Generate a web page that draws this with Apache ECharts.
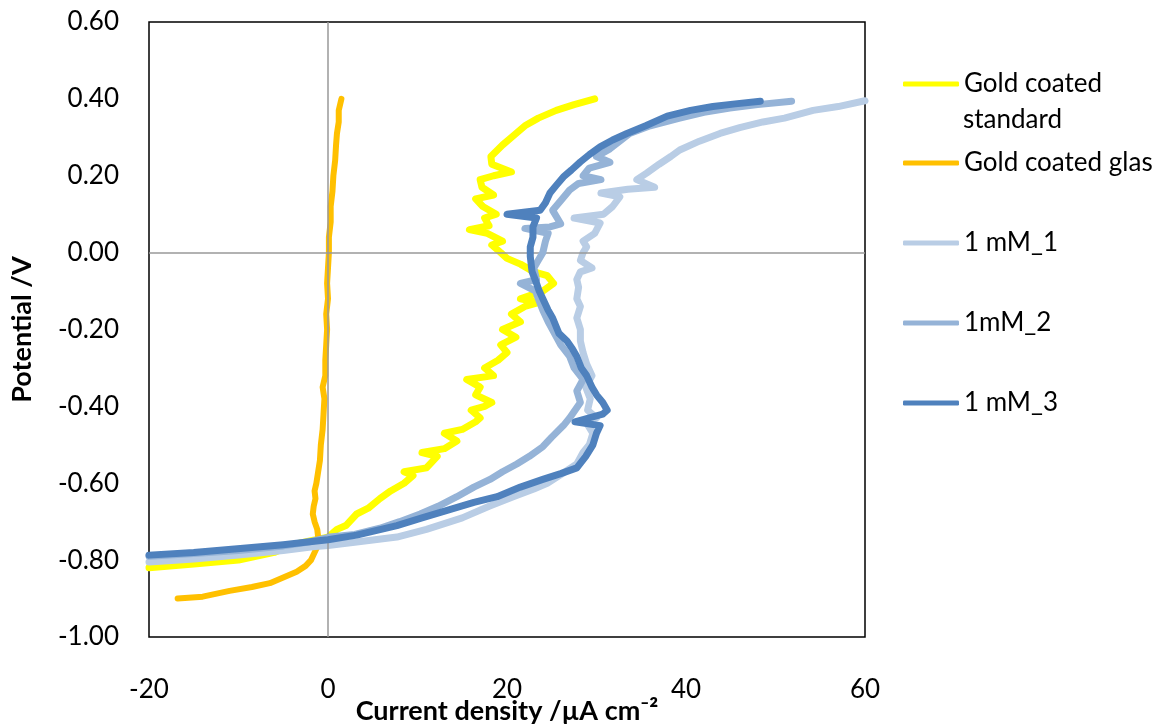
<!DOCTYPE html>
<html>
<head>
<meta charset="utf-8">
<script src="https://cdn.jsdelivr.net/npm/echarts@6/dist/echarts.min.js"></script>
<style>html,body{margin:0;padding:0;background:#fff;}#chart{width:1162px;height:724px;}</style>
</head>
<body>
<div id="chart"></div>
<script>
// ---- data: [current density (µA cm-2), potential (V)] ----
const seriesNames = ['Gold coated standard', 'Gold coated glas', '1 mM_1', '1mM_2', '1 mM_3'];
const xTicks = [-20, 0, 20, 40, 60];
const yTicks = [-1.0, -0.8, -0.6, -0.4, -0.2, 0.0, 0.2, 0.4, 0.6];

const goldStandard = [
  [-20,-0.82],[-15,-0.81],[-10,-0.80],[-6,-0.78],[-4,-0.76],[-2,-0.75],[0,-0.74],[1,-0.72],[2,-0.71],
  [3.2,-0.68],[4.5,-0.665],[5.8,-0.64],[7,-0.62],[8.5,-0.6],[9.5,-0.58],[8.5,-0.57],[11,-0.56],
  [12.2,-0.53],[10.5,-0.52],[13,-0.51],[14.4,-0.49],[13,-0.47],[15,-0.46],[16.5,-0.44],[17,-0.43],
  [16,-0.41],[17.5,-0.40],[18.3,-0.39],[16.5,-0.37],[17,-0.35],[15.5,-0.33],[18.5,-0.32],[17.5,-0.30],
  [19,-0.28],[20,-0.26],[19.3,-0.24],[21,-0.22],[19.5,-0.20],[21.5,-0.18],[20.5,-0.16],[22,-0.14],
  [23.5,-0.13],[21.5,-0.12],[24,-0.10],[25.2,-0.08],[24.5,-0.06],[23,-0.05],[21.5,-0.03],[20,-0.015],
  [19.3,0],[18.3,0.02],[19.5,0.03],[17.8,0.05],[15.8,0.06],[18,0.07],[17.5,0.09],[18.8,0.1],
  [17.3,0.12],[16.5,0.14],[18.5,0.15],[17.2,0.17],[17,0.19],[18.5,0.2],[20.5,0.21],[18.3,0.23],
  [18.2,0.25],[19.5,0.28],[20.5,0.3],[22,0.33],[23.5,0.35],[25.5,0.37],[27.5,0.385],[29.8,0.40]
];
const goldGlas = [
  [-16.8,-0.90],[-14,-0.895],[-11,-0.88],[-8.5,-0.87],[-6.5,-0.86],[-5,-0.845],[-3.5,-0.83],[-2.5,-0.815],
  [-1.9,-0.80],[-1.5,-0.78],[-1.2,-0.765],[-1.1,-0.74],[-1.2,-0.72],[-1.5,-0.70],[-1.7,-0.68],[-1.6,-0.66],
  [-1.4,-0.64],[-1.5,-0.62],[-1.3,-0.60],[-1.1,-0.57],[-0.9,-0.54],[-0.8,-0.50],[-0.6,-0.46],[-0.5,-0.42],
  [-0.4,-0.38],[-0.6,-0.35],[-0.3,-0.32],[-0.3,-0.28],[-0.2,-0.24],[-0.1,-0.20],[-0.2,-0.16],[0.0,-0.12],
  [-0.1,-0.08],[0.0,-0.04],[0.1,0.0],[0.1,0.04],[0.3,0.08],[0.3,0.12],[0.5,0.16],[0.6,0.20],[0.8,0.24],
  [0.9,0.28],[1.0,0.31],[1.2,0.34],[1.2,0.37],[1.5,0.40]
];
const mM1 = [
  [-20,-0.805],[-15,-0.797],[-10,-0.787],[-5,-0.775],[-1.7,-0.765],[0,-0.762],[3.2,-0.753],[7.7,-0.74],
  [11,-0.72],[15,-0.69],[18,-0.66],[20.7,-0.635],[23,-0.615],[24.5,-0.60],[26.5,-0.57],[27.8,-0.55],
  [28.5,-0.52],[29.2,-0.50],[29.6,-0.47],[28.8,-0.44],[30,-0.43],[29,-0.41],[29.3,-0.38],[28.8,-0.35],
  [29.5,-0.32],[28.9,-0.29],[28.5,-0.26],[28.2,-0.23],[28.2,-0.20],[27.8,-0.17],[28.2,-0.14],[27.8,-0.12],
  [28.0,-0.09],[27.8,-0.07],[28.2,-0.05],[29.5,-0.04],[28.2,-0.02],[28.5,0.0],[28.9,0.015],[28.5,0.03],
  [29.8,0.05],[30.4,0.077],[27.5,0.09],[30.8,0.1],[31.8,0.12],[32.6,0.145],[30.5,0.155],[33.5,0.165],
  [36.5,0.17],[34.5,0.19],[35.6,0.207],[37,0.23],[38.3,0.25],[39.3,0.267],[41.5,0.29],[43.8,0.31],
  [46,0.325],[48.6,0.34],[51,0.35],[54.2,0.37],[57,0.38],[60,0.395]
];
const mM2 = [
  [-20,-0.79],[-15,-0.783],[-10,-0.775],[-5,-0.763],[-2,-0.752],[0.2,-0.74],[3,-0.733],[5.8,-0.717],
  [8,-0.70],[10.3,-0.68],[12.3,-0.66],[14.4,-0.635],[16.3,-0.61],[18.1,-0.59],[19.5,-0.57],[21.1,-0.55],
  [22.5,-0.53],[24,-0.505],[25,-0.48],[26.3,-0.45],[27,-0.43],[28.2,-0.39],[27.8,-0.36],[28.5,-0.33],
  [27.5,-0.30],[27,-0.27],[26,-0.24],[25.3,-0.21],[24.6,-0.18],[24,-0.15],[23.5,-0.12],[23.2,-0.10],
  [21.5,-0.08],[23.3,-0.07],[23,-0.04],[23.5,-0.02],[24,0.0],[24.3,0.03],[24.6,0.05],[22,0.063],
  [24.8,0.067],[26,0.075],[25.1,0.11],[26,0.135],[27,0.163],[28,0.18],[30.5,0.19],[28.5,0.2],
  [29.2,0.22],[31.5,0.235],[30,0.25],[31.5,0.27],[33.7,0.31],[36,0.33],[39.3,0.35],[42,0.365],
  [44.9,0.376],[48,0.385],[51.8,0.394]
];
const mM3 = [
  [-20,-0.787],[-15,-0.78],[-9.8,-0.77],[-5,-0.76],[-2.3,-0.753],[0,-0.747],[3.2,-0.735],[7.7,-0.71],
  [10.5,-0.69],[13.4,-0.67],[16.3,-0.65],[18.9,-0.635],[21.5,-0.61],[24,-0.59],[26,-0.575],[27.8,-0.56],
  [28.8,-0.53],[29.6,-0.50],[30,-0.47],[30.4,-0.45],[27.6,-0.44],[30.7,-0.42],[31.2,-0.41],[30.7,-0.39],
  [30,-0.37],[29.5,-0.35],[28.9,-0.32],[28.3,-0.30],[27.8,-0.27],[27.3,-0.25],[26.7,-0.23],[25.8,-0.21],
  [25.1,-0.17],[24.6,-0.15],[24,-0.12],[23.6,-0.10],[23.3,-0.08],[22.8,-0.05],[22.6,-0.01],[22.6,0.015],
  [22.9,0.04],[22.9,0.067],[23.3,0.09],[20,0.10],[23.7,0.11],[24.3,0.13],[24.8,0.155],[25.5,0.175],
  [26.3,0.197],[27.2,0.215],[28.2,0.236],[29.2,0.255],[30.4,0.275],[31.8,0.293],[33.4,0.31],[35.5,0.33],
  [37.9,0.355],[40.5,0.37],[43,0.38],[45.5,0.387],[48.3,0.394]
];
const seriesData = [goldStandard, goldGlas, mM1, mM2, mM3];
const colors = ['#FFFF00', '#FFC000', '#B9CDE5', '#95B3D7', '#4F81BD'];
const widths = [7, 6, 7, 7, 7];
const legendCenters = [84, 163, 243, 323, 403];
const legendLabels = ['Gold coated', 'Gold coated glas', '1 mM_1', '1mM_2', '1 mM_3'];

const FONT = 'Lato, "Open Sans", sans-serif';
const chart = echarts.init(document.getElementById('chart'), null, {renderer: 'canvas'});

const series = [{
  name: '__axes', type: 'line', data: [], z: 1, silent: true,
  markLine: {
    silent: true, symbol: 'none', animation: false,
    label: {show: false},
    lineStyle: {color: '#999999', width: 1.5, type: 'solid'},
    data: [{xAxis: 0}, {yAxis: 0}]
  }
}];
seriesNames.forEach((n, i) => {
  series.push({
    name: n, type: 'line', data: seriesData[i], symbol: 'none', z: 2 + i,
    color: colors[i],
    lineStyle: {color: colors[i], width: widths[i], cap: 'round', join: 'round'},
    animation: false
  });
});

const legends = seriesNames.map((n, i) => ({
  data: [n], left: 903, top: legendCenters[i] - 15, orient: 'vertical',
  icon: 'roundRect', itemWidth: 56, itemHeight: 5, padding: 0,
  formatter: () => legendLabels[i],
  textStyle: {fontFamily: FONT, fontSize: 26, color: '#000', lineHeight: 30},
  selectedMode: false
}));

chart.setOption({
  backgroundColor: '#fff',
  animation: false,
  grid: {left: 149, right: 297, top: 22, bottom: 87, show: true, borderColor: '#000', borderWidth: 1.5,
         backgroundColor: 'transparent', outerBoundsMode: 'none', containLabel: false},
  xAxis: {
    type: 'value', min: xTicks[0], max: xTicks[xTicks.length - 1], interval: 20,
    axisLine: {show: false}, axisTick: {show: false}, splitLine: {show: false},
    axisLabel: {fontFamily: FONT, fontSize: 26, color: '#000', margin: 40},
    name: 'Current density /µA cm⁻²', nameLocation: 'middle', nameGap: 61, nameMoveOverlap: false,
    nameTextStyle: {fontFamily: FONT, fontSize: 27, fontWeight: 'bold', color: '#000'}
  },
  yAxis: {
    type: 'value', min: yTicks[0], max: yTicks[yTicks.length - 1], interval: 0.2,
    axisLine: {show: false}, axisTick: {show: false}, splitLine: {show: false},
    axisLabel: {fontFamily: FONT, fontSize: 26, color: '#000', margin: 30, formatter: v => v.toFixed(2)},
    name: 'Potential /V', nameLocation: 'middle', nameGap: 113, nameRotate: 90, nameMoveOverlap: false,
    nameTextStyle: {fontFamily: FONT, fontSize: 27, fontWeight: 'bold', color: '#000'}
  },
  legend: legends,
  graphic: [{
    type: 'text', x: 963, y: 120, silent: true,
    style: {text: 'standard', font: '26px ' + FONT, fill: '#000', verticalAlign: 'middle'}
  }],
  series: series
});
</script>
</body>
</html>
